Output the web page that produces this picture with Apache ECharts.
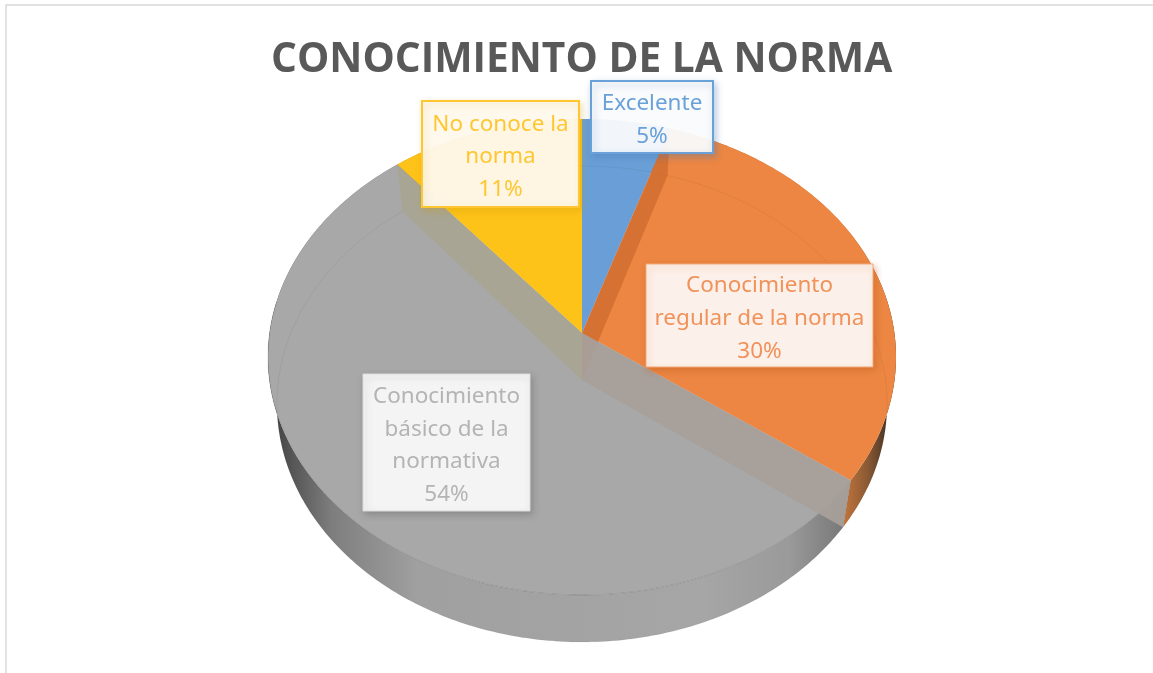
<!DOCTYPE html>
<html><head><meta charset="utf-8">
<style>html,body{margin:0;padding:0;background:#fff}#c{width:1153px;height:673px}</style>
<script src="https://cdn.jsdelivr.net/npm/echarts@6/dist/echarts.min.js"></script>
</head><body><div id="c"></div>
<script>
const titleText = 'CONOCIMIENTO DE LA NORMA';
const categories = ['Excelente', 'Conocimiento regular de la norma', 'Conocimiento básico de la normativa', 'No conoce la norma'];
const labelLines = [['Excelente'], ['Conocimiento', 'regular de la norma'], ['Conocimiento', 'básico de la', 'normativa'], ['No conoce la', 'norma']];
const values = [5, 30, 54, 11];
const colors = ['#699fd6', '#ec8642', '#a8a8a8', '#fec318'];

// layout
const boxes = [[591, 81, 122, 72], [646, 264, 227, 103], [363, 374, 167, 137], [422, 101, 157, 106]];
const boxFill = ['rgba(255,255,255,0.92)', '#fcf1ea', '#f4f4f4', 'rgba(255,250,240,0.94)'];
const textColor = ['#6aa1d8', '#f0925a', '#b4b4b4', '#fec732'];
const borderColor = ['#6aa1d8', '#f3a878', '#dcdcdc', '#fec732'];
const borderWidth = [2, 1, 1, 2];
const shadowColor = ['rgba(70,120,180,0.4)', 'rgba(190,90,30,0.45)', 'rgba(80,80,80,0.35)', 'rgba(200,150,10,0.3)'];
const topE = {cx: 582, cy: 357, rx: 314, ry: 238};
const lowE = {cx: 582, cy: 404, rx: 305, ry: 238};
const k = -24 / 238; // perspective shift of the pie's centre

const total = values.reduce((a, b) => a + b, 0);
const startAngle = i => values.slice(0, i).reduce((a, b) => a + b, 0) / total * Math.PI * 2;
function proj(e, a) {
  const u = Math.sin(a), v = -Math.cos(a), d = 1 + k * v;
  return [e.cx + e.rx * u * Math.sqrt(1 - k * k) / d, e.cy + e.ry * (v + k) / d];
}
const apex = e => [e.cx, e.cy + e.ry * k];
function arc(e, a0, a1) {
  const n = Math.max(2, Math.ceil(Math.abs(a1 - a0) / 0.015)), pts = [];
  for (let i = 0; i <= n; i++) pts.push(proj(e, a0 + (a1 - a0) * i / n));
  return pts;
}
const sideFills = [
  '#5c8cc0',
  new echarts.graphic.LinearGradient(843, 0, 892, 0, [{offset: 0, color: '#c4753c'}, {offset: 0.5, color: '#8a5a34'}, {offset: 1, color: '#3a2c22'}], true),
  new echarts.graphic.LinearGradient(275, 0, 846, 0, [{offset: 0, color: '#444444'}, {offset: 0.1, color: '#7e7e7e'}, {offset: 0.25, color: '#a0a0a0'}, {offset: 0.75, color: '#a6a6a6'}, {offset: 0.9, color: '#9a9a9a'}, {offset: 1, color: '#777777'}], true),
  '#c09010'
];
const wallFills = ['rgba(150,150,150,0.15)', 'rgba(205,105,45,0.75)', 'rgba(168,159,153,0.95)', 'rgba(168,164,146,0.95)'];

function layer(fn, z) {
  return {
    type: 'custom', coordinateSystem: 'none', z, silent: true, animation: false,
    data: values.map((v, i) => [i, v]),
    renderItem: (params, api) => fn(api.value(0))
  };
}
const sides = i => ({type: 'polygon', shape: {points:
  arc(topE, startAngle(i), startAngle(i + 1)).concat(arc(lowE, startAngle(i + 1), startAngle(i)))}, style: {fill: sideFills[i]}});
const faces = i => ({type: 'polygon', shape: {points:
  [apex(topE)].concat(arc(topE, startAngle(i), startAngle(i + 1)))}, style: {fill: colors[i]}});
const rings = i => {
  const a0 = startAngle(i), a1 = startAngle(i + 1);
  const children = [{type: 'polyline', shape: {points: arc(lowE, a0, a1)}, style: {fill: 'none', stroke: 'rgba(0,0,0,0.05)', lineWidth: 1}}];
  // only the near edge of the top face (the part that has a visible side below it) shows a rim line
  if (i === 2) children.push({type: 'polyline', shape: {points: arc(topE, a0, a0 + (a1 - a0) * 0.78)}, style: {fill: 'none', stroke: 'rgba(0,0,0,0.14)', lineWidth: 1}});
  return {type: 'group', children};
};
const cuts = i => {
  const a = startAngle(i);
  return {type: 'polygon', z2: i === 1 ? 0 : 2, shape: {points: [apex(topE), proj(topE, a), proj(lowE, a), apex(lowE)]}, style: {fill: wallFills[i]}};
};
const labels = i => {
  const [x, y, w, h] = boxes[i];
  const pct = Math.round(values[i] / total * 100) + '%';
  const lines = labelLines[i].concat(pct);
  return {type: 'group', children: [
    {type: 'rect', shape: {x, y, width: w, height: h},
      style: {fill: boxFill[i], stroke: borderColor[i], lineWidth: borderWidth[i], shadowBlur: 7, shadowOffsetX: 2, shadowOffsetY: 3, shadowColor: shadowColor[i]}},
    {type: 'text', x: x + w / 2, y: y + h / 2 + 3, style: {
      text: lines.join('\n'), fill: textColor[i], font: '22.5px "Noto Sans"', lineHeight: 32.7, align: 'center', verticalAlign: 'middle'}}
  ]};
};

const chart = echarts.init(document.getElementById('c'), null, {renderer: 'canvas'});
chart.setOption({
  animation: false,
  backgroundColor: '#ffffff',
  title: {text: titleText, left: 266, top: 35, textStyle: {fontFamily: '"Open Sans"', fontWeight: 'bold', fontSize: 40.7, color: '#595959'}},
  graphic: [
    {type: 'polyline', shape: {points: [[6, 673], [6, 5], [1153, 5]]}, style: {fill: 'none', stroke: '#d9d9d9', lineWidth: 1.5}}
  ],
  series: [layer(sides, 1), layer(faces, 2), layer(rings, 3), layer(cuts, 4), layer(labels, 5)]
});
</script></body></html>
